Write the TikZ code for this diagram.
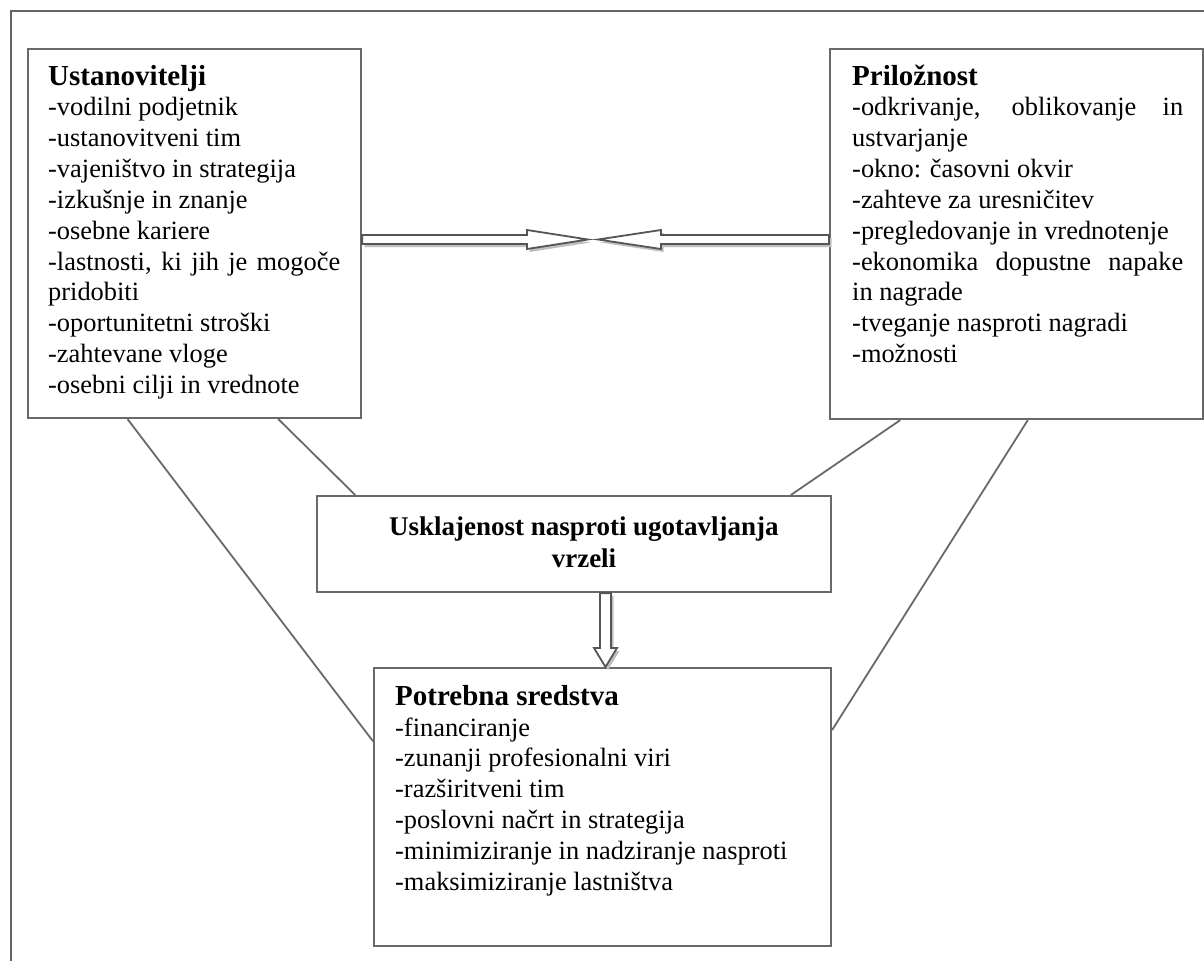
\documentclass[tikz,border=0pt]{standalone}
\usepackage{fontspec}
\setmainfont{Liberation Serif}
\usetikzlibrary{calc}

\definecolor{framegray}{RGB}{100,100,100}
\definecolor{boxgray}{RGB}{105,105,105}
\definecolor{shadowgray}{RGB}{190,190,190}
\definecolor{arrowgray}{RGB}{85,85,85}

\newcommand\bodyfont{\fontsize{26.4pt}{30.9pt}\selectfont}
\newcommand\headfont{\fontsize{29pt}{33pt}\selectfont\bfseries}
\newcommand\midfont{\fontsize{27pt}{32pt}\selectfont\bfseries}

% hollow block arrow with a soft drop shadow
\newcommand\hollowarrow[1]{%
  \fill[arrowshadow, transform canvas={xshift=2.5pt,yshift=-3pt}] #1 -- cycle;
  \filldraw[arrowbody] #1 -- cycle;}

\begin{document}
\begin{tikzpicture}[x=1pt,y=-1pt,
  box/.style={draw=boxgray, line width=2.1pt, rectangle, inner sep=0pt, anchor=north west},
  link/.style={draw=boxgray, line width=1.8pt},
  heading/.style={anchor=base west, inner sep=0pt, font=\headfont},
  body/.style={anchor=base west, inner sep=0pt},
  arrowbody/.style={fill=white, draw=arrowgray, line width=1.8pt, line join=miter},
  arrowshadow/.style={fill=shadowgray}]

\useasboundingbox (0,0) rectangle (1204,961);

% page frame
\draw[framegray, line width=2.4pt] (11,961) -- (11,11) -- (1204,11);

% boxes
\node[box, minimum width=333pt, minimum height=369pt] (L) at (27,48) {};
\node[box, minimum width=373pt, minimum height=370pt] (R) at (829,48) {};
\node[box, minimum width=514pt, minimum height=96pt]  (M) at (316,495) {};
\node[box, minimum width=457pt, minimum height=278pt] (B) at (373,667) {};

% connecting lines
\draw[link] ($(L.south west)!0.30!(L.south east)$) -- ($(B.north west)!0.265!(B.south west)$);
\draw[link] ($(L.south west)!0.75!(L.south east)$) -- ($(M.north west)!0.076!(M.north east)$);
\draw[link] ($(R.south west)!0.19!(R.south east)$) -- ($(M.north west)!0.92!(M.north east)$);
\draw[link] ($(R.south west)!0.53!(R.south east)$) -- ($(B.north east)!0.225!(B.south east)$);

% texts
\node[heading] (Lh) at (48,85) {Ustanovitelji};
\node[body] (Lb) at (48,115.5) {\parbox[t]{292pt}{\bodyfont
-vodilni podjetnik\\
-ustanovitveni tim\\
-vajeništvo in strategija\\
-izkušnje in znanje\\
-osebne kariere\\
\makebox[\linewidth][s]{-lastnosti, ki jih je mogoče}\\
pridobiti\\
-oportunitetni stroški\\
-zahtevane vloge\\
-osebni cilji in vrednote}};

\node[heading] (Rh) at (852,85) {Priložnost};
\node[body] (Rb) at (852,115.5) {\parbox[t]{331pt}{\bodyfont
\makebox[\linewidth][s]{-odkrivanje, oblikovanje in}\\
ustvarjanje\\
-okno: časovni okvir\\
-zahteve za uresničitev\\
-pregledovanje in vrednotenje\\
\makebox[\linewidth][s]{-ekonomika dopustne napake}\\
in nagrade\\
-tveganje nasproti nagradi\\
-možnosti}};

\node[anchor=base, inner sep=0pt] (Mt) at (584,535) {\midfont
\begin{tabular}[t]{@{}c@{}}Usklajenost nasproti ugotavljanja\\vrzeli\end{tabular}};

\node[heading] (Bh) at (395,705) {Potrebna sredstva};
\node[body] (Bb) at (395,736) {\parbox[t]{420pt}{\bodyfont
-financiranje\\
-zunanji profesionalni viri\\
-razširitveni tim\\
-poslovni načrt in strategija\\
-minimiziranje in nadziranje nasproti\\
-maksimiziranje lastništva}};

% arrows
\coordinate (ls) at (L.east |- 0,239.5);
\coordinate (lt) at (588,239.5);
\coordinate (rs) at (R.west |- 0,239.5);
\coordinate (rt) at (598,239.5);
\coordinate (vs) at (M.south -| 605.5,0);
\coordinate (vt) at (B.north -| 605.5,0);

\hollowarrow{($(ls)+(0,-4.5)$) -- ($(lt)+(-61,-4.5)$) -- ($(lt)+(-61,-9.5)$) -- (lt) -- ($(lt)+(-61,9.5)$) -- ($(lt)+(-61,4.5)$) -- ($(ls)+(0,4.5)$)}
\hollowarrow{($(rs)+(0,-4.5)$) -- ($(rt)+(63,-4.5)$) -- ($(rt)+(63,-9.5)$) -- (rt) -- ($(rt)+(63,9.5)$) -- ($(rt)+(63,4.5)$) -- ($(rs)+(0,4.5)$)}
\hollowarrow{($(vs)+(-5.5,0)$) -- ($(vt)+(-5.5,-19)$) -- ($(vt)+(-11.5,-19)$) -- (vt) -- ($(vt)+(11.5,-19)$) -- ($(vt)+(5.5,-19)$) -- ($(vs)+(5.5,0)$)}

\end{tikzpicture}
\end{document}
